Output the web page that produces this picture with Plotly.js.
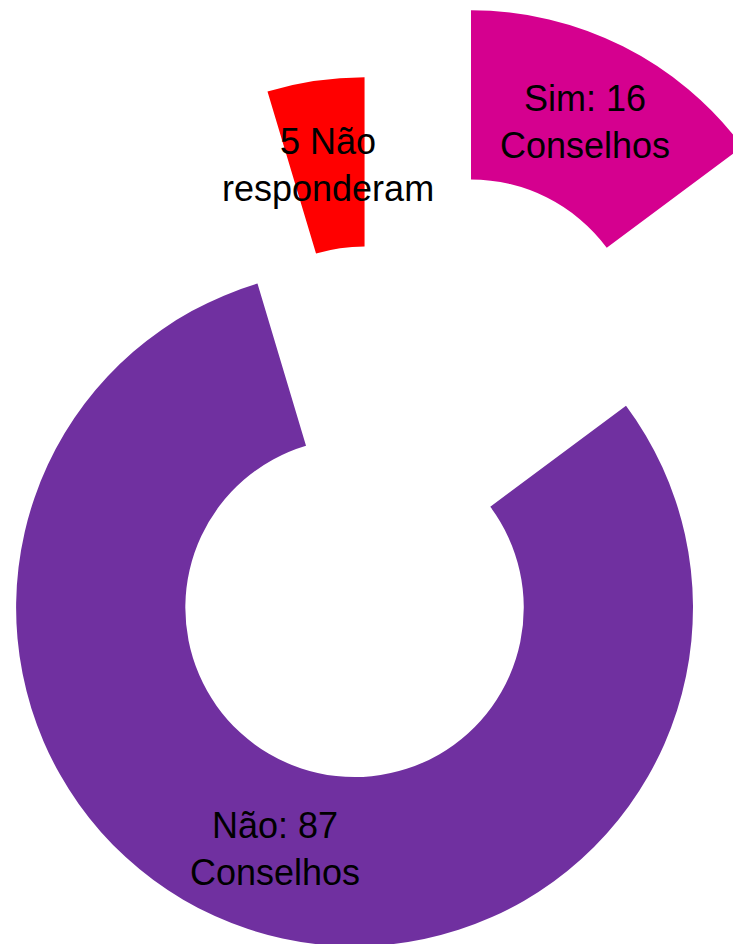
<!DOCTYPE html>
<html>
<head>
<meta charset="utf-8">
<script src="https://cdn.plot.ly/plotly-3.0.1.min.js"></script>
<style>
html,body{margin:0;padding:0;overflow:hidden;background:#fff;width:733px;height:944px;position:relative}
#chart{position:absolute;left:-158px;top:-11px;}
</style>
</head>
<body>
<div id="chart"></div>
<script>
const categories = ['Sim', 'Não', 'Não responderam'];
const values = [16, 87, 5];
const sliceText = ['Sim: 16<br>Conselhos', 'Não: 87<br>Conselhos', '5 Não<br>responderam'];
const colors = ['#D5008F', '#7030A0', '#FF0000'];
const pulls = [0.5926, 0.2485, 0.3353];
const holeFraction = 0.5;

const trace = {
  type: 'pie',
  labels: categories,
  values: values,
  textinfo: 'none',
  hole: holeFraction,
  pull: pulls,
  sort: false,
  direction: 'clockwise',
  rotation: 0,
  domain: {x: [0, 1], y: [0, 1]},
  marker: {colors: colors, line: {width: 0}},
  hoverinfo: 'label+value',
  showlegend: false
};

// Slice labels placed at the radial middle of each (pulled) slice,
// derived from the values and pulls with the same geometry the pie uses.
const total = values.reduce((a, b) => a + b, 0);
const maxPull = Math.max(...pulls);
const R = 0.5 / (1 + maxPull);           // radius in paper units (square plot)
const ringMid = (1 + holeFraction) / 2;   // radial middle of the ring
let cum = 0;
const annotations = values.map((v, i) => {
  const mid = 2 * Math.PI * (cum + v / 2) / total;
  cum += v;
  const d = (pulls[i] + ringMid) * R;
  return {
    xref: 'paper', yref: 'paper',
    x: 0.5 + d * Math.sin(mid),
    y: 0.5 + d * Math.cos(mid),
    text: sliceText[i],
    showarrow: false,
    xanchor: 'center', yanchor: 'middle', align: 'center',
    font: {family: 'Liberation Sans, Arial, sans-serif', size: 36, color: '#000000'}
  };
});

const layout = {
  width: 1078,
  height: 1078,
  margin: {l: 0, r: 0, t: 0, b: 0, pad: 0},
  paper_bgcolor: 'rgba(0,0,0,0)',
  plot_bgcolor: 'rgba(0,0,0,0)',
  showlegend: false,
  annotations: annotations
};

Plotly.newPlot('chart', [trace], layout, {displayModeBar: false, staticPlot: true});
</script>
</body>
</html>
